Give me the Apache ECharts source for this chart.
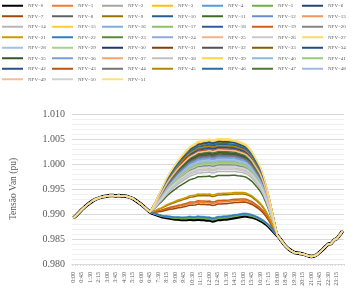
<!DOCTYPE html>
<html>
<head>
<meta charset="utf-8">
<script src="https://cdn.jsdelivr.net/npm/echarts@6/dist/echarts.min.js"></script>
<style>
html,body{margin:0;padding:0;background:#fff;}
#chart{width:353px;height:299px;}
</style>
</head>
<body>
<div id="chart"></div>
<script>
const times = ["0:00","0:15","0:30","0:45","1:00","1:15","1:30","1:45","2:00","2:15","2:30","2:45",
"3:00","3:15","3:30","3:45","4:00","4:15","4:30","4:45","5:00","5:15","5:30","5:45",
"6:00","6:15","6:30","6:45","7:00","7:15","7:30","7:45","8:00","8:15","8:30","8:45",
"9:00","9:15","9:30","9:45","10:00","10:15","10:30","10:45","11:00","11:15","11:30","11:45",
"12:00","12:15","12:30","12:45","13:00","13:15","13:30","13:45","14:00","14:15","14:30","14:45",
"15:00","15:15","15:30","15:45","16:00","16:15","16:30","16:45","17:00","17:15","17:30","17:45",
"18:00","18:15","18:30","18:45","19:00","19:15","19:30","19:45","20:00","20:15","20:30","20:45",
"21:00","21:15","21:30","21:45","22:00","22:15","22:30","22:45","23:00","23:15","23:30","23:45"];

// lowest curve (no PV rise)
const baseVolt = [
0.9892,0.9897,0.9903,0.9909,0.9914,0.9919,0.9923,0.9927,0.9930,0.9932,0.9934,0.9935,
0.9936,0.9937,0.9937,0.9936,0.9937,0.9936,0.9936,0.9935,0.9933,0.9931,0.9927,0.9923,
0.9919,0.9914,0.9909,0.9904,0.9901,0.9899,0.9897,0.9895,0.9894,0.9893,0.9892,0.9891,
0.9890,0.9890,0.9889,0.9889,0.9889,0.9890,0.9889,0.9889,0.9890,0.9889,0.9889,0.9888,
0.9888,0.9886,0.9887,0.9889,0.9889,0.9890,0.9890,0.9891,0.9892,0.9893,0.9894,0.9895,
0.9896,0.9896,0.9895,0.9894,0.9892,0.9890,0.9887,0.9884,0.9880,0.9875,0.9869,0.9863,
0.9857,0.9850,0.9842,0.9835,0.9830,0.9826,0.9823,0.9822,0.9821,0.9820,0.9818,0.9816,
0.9815,0.9816,0.9819,0.9824,0.9829,0.9835,0.9840,0.9841,0.9848,0.9851,0.9858,0.9866];

// relative daytime rise profile (fraction of each series' peak rise)
const pvShape = [
0,0,0,0,0,0,0,0,0,0,0,0,
0,0,0,0,0,0,0,0,0,0,0,0,
0,0,0,0,0.08,0.16,0.25,0.33,0.41,0.49,0.56,0.62,
0.68,0.73,0.78,0.82,0.86,0.89,0.92,0.94,0.96,0.97,0.98,0.99,
1.00,1.00,1.00,1.00,1.00,0.99,0.99,0.98,0.97,0.96,0.94,0.92,
0.90,0.88,0.85,0.81,0.76,0.71,0.66,0.58,0.48,0.37,0.25,0.12,
0,0,0,0,0,0,0,0,0,0,0,0,
0,0,0,0,0,0,0,0,0,0,0,0];

// midday rise above the lowest curve for NFV=0..51 (pu)
const peakRise = [
0.0000,0.0035,0.0108,0.0153,0.0003,0.0002,0.0150,0.0031,0.0129,0.0049,
0.0147,0.0088,0.0126,0.0140,0.0096,0.0154,0.0006,0.0116,0.0145,0.0038,
0.0110,0.0052,0.0005,0.0133,0.0122,0.0137,0.0100,0.0160,0.0120,0.0112,
0.0157,0.0142,0.0131,0.0155,0.0156,0.0134,0.0124,0.0138,0.0103,0.0159,
0.0143,0.0114,0.0144,0.0141,0.0128,0.0148,0.0152,0.0136,0.0118,0.0139,
0.0106,0.0162];

const yTicks = [0.980,0.985,0.990,0.995,1.000,1.005,1.010];

// Office theme palette with Excel's tint/shade cycle
const accents = ['#4472C4','#ED7D31','#A5A5A5','#FFC000','#5B9BD5','#70AD47'];
const variants = [[1,0],[0.6,0],[0.8,0.2],[0.8,0],[0.6,0.4],[0.5,0],[0.7,0.3],[0.7,0],[0.5,0.5]];
function hexToHsl(h){
  const r=parseInt(h.substr(1,2),16)/255,g=parseInt(h.substr(3,2),16)/255,b=parseInt(h.substr(5,2),16)/255;
  const mx=Math.max(r,g,b),mn=Math.min(r,g,b);let hh=0,s=0;const l=(mx+mn)/2;
  if(mx!==mn){const d=mx-mn;s=l>0.5?d/(2-mx-mn):d/(mx+mn);
    if(mx===r)hh=(g-b)/d+(g<b?6:0);else if(mx===g)hh=(b-r)/d+2;else hh=(r-g)/d+4;hh/=6;}
  return [hh,s,l];
}
function hslToHex(h,s,l){
  function f(p,q,t){if(t<0)t+=1;if(t>1)t-=1;if(t<1/6)return p+(q-p)*6*t;if(t<1/2)return q;if(t<2/3)return p+(q-p)*(2/3-t)*6;return p;}
  let r,g,b;if(s===0){r=g=b=l;}else{const q=l<0.5?l*(1+s):l+s-l*s;const p=2*l-q;r=f(p,q,h+1/3);g=f(p,q,h);b=f(p,q,h-1/3);}
  const x=v=>('0'+Math.round(v*255).toString(16)).slice(-2);return '#'+x(r)+x(g)+x(b);
}
function seriesColor(k){
  if(k===0) return '#000000';
  const base=accents[k%6];const v=variants[Math.floor(k/6)%variants.length];
  const hsl=hexToHsl(base);return hslToHex(hsl[0],hsl[1],Math.min(1,hsl[2]*v[0]+v[1]));
}

const names = peakRise.map((_,k)=>'NFV='+k);
const series = peakRise.map((rise,k)=>({
  name: names[k],
  type: 'line',
  symbol: 'none',
  silent: true,
  animation: false,
  color: seriesColor(k),
  lineStyle: {width: k===0 ? 3.4 : 1.5, color: seriesColor(k)},
  data: baseVolt.map((b,i)=>+(b + rise*pvShape[i]).toFixed(5))
}));

const chart = echarts.init(document.getElementById('chart'), null, {renderer:'canvas'});
chart.setOption({
  animation: false,
  backgroundColor: '#ffffff',
  legend: {
    data: names.map(n=>({name: n, icon: 'rect'})),
    top: 2, left: 2, right: 0,
    orient: 'horizontal',
    itemWidth: 21, itemHeight: 2, itemGap: 3,
    padding: 0,
    selectedMode: false,
    textStyle: {fontSize: 5, width: 21, overflow: 'truncate', lineHeight: 7.5,
      color: '#595959', fontFamily: 'Liberation Serif'}
  },
  grid: {left: 71, right: 9, top: 114, bottom: 35},
  xAxis: {
    type: 'category',
    data: times,
    boundaryGap: true,
    axisLine: {lineStyle: {color: '#d9d9d9'}},
    axisTick: {show: true, interval: 0, length: 2, lineStyle: {color: '#d9d9d9'}},
    axisLabel: {rotate: 90, interval: 2, fontSize: 6, margin: 8,
      color: '#595959', fontFamily: 'Liberation Serif'},
    splitLine: {show: false}
  },
  yAxis: {
    type: 'value',
    min: yTicks[0], max: yTicks[yTicks.length-1], interval: 0.005,
    name: 'Tensão Van (pu)',
    nameLocation: 'middle',
    nameGap: 54,
    nameTextStyle: {fontSize: 9.5, color: '#595959', fontFamily: 'Liberation Serif'},
    axisLine: {show: false},
    axisTick: {show: false},
    axisLabel: {fontSize: 10, margin: 7, color: '#595959', fontFamily: 'Liberation Serif',
      formatter: v => v.toFixed(3)},
    splitLine: {lineStyle: {color: '#d9d9d9', width: 1}},
    minorTick: {show: false, splitNumber: 5},
    minorSplitLine: {show: true, lineStyle: {color: '#f0f0f0', width: 1}}
  },
  series: series
});
</script>
</body>
</html>
